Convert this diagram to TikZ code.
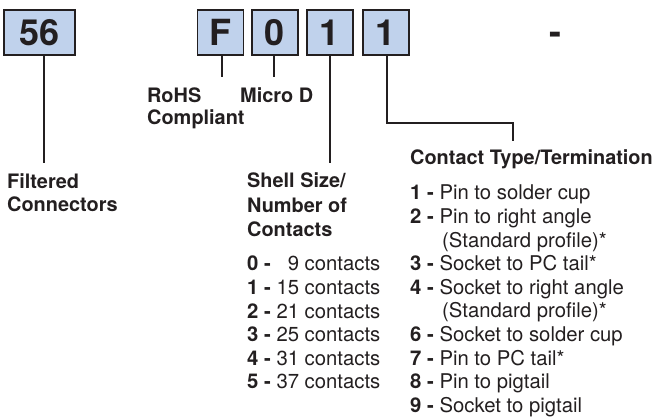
\documentclass[tikz,border=0pt]{standalone}
\usepackage{fontspec}
\setmainfont{TeX Gyre Heros}
\definecolor{ink}{RGB}{35,31,32}
\definecolor{boxblue}{RGB}{192,210,236}

\begin{document}
\begin{tikzpicture}[x=1pt,y=-1pt,line join=miter,
  every node/.style={inner sep=0pt,text=ink},
  digit/.style={draw=ink,line width=1.8pt,fill=boxblue,minimum width=46pt,minimum height=45pt,
    font=\fontsize{36}{36}\selectfont\bfseries},
  lbl/.style={anchor=base west,align=left,font=\fontsize{19.9}{23.6}\selectfont\bfseries},
  item/.style={anchor=base west,font=\fontsize{20.3}{23.6}\selectfont},
  lead/.style={draw=ink,line width=1.8pt}]
  \def\dy{23.6}
  \useasboundingbox (0,0) rectangle (657,419);
  % part number boxes
  \node[digit,minimum width=71pt] (b56) at (39.5,32.5) {56};
  \node[digit] (bF) at (220.5,32.5) {F};
  \node[digit] (b0) at (275,32.5) {0};
  \node[digit] (b1) at (330,32.5) {1};
  \node[digit] (b4) at (386,32.5) {1};
  \node[anchor=base,font=\fontsize{36}{36}\selectfont\bfseries] (dash) at (555,45) {-};
  % labels (base = last line)
  \node[lbl] (lfilt) at (7,212) {Filtered\\Connectors};
  \node[lbl,font=\fontsize{19.9}{22}\selectfont\bfseries] (lrohs) at (147,125) {RoHS\\Compliant};
  \node[lbl] (lmicro) at (240,103) {Micro D};
  \node[lbl,font=\fontsize{19.9}{24.5}\selectfont\bfseries] (lshell) at (247,237) {Shell Size/\\Number of\\Contacts};
  \node[lbl] (lterm) at (410,165) {Contact Type/Termination};
  % leads
  \coordinate (e56) at (44,163);
  \coordinate (eF) at (222,77);
  \coordinate (e0) at (274,77);
  \coordinate (e1) at (330,163);
  \coordinate (t4) at (387,123);
  \coordinate (eT) at (513,141);
  \draw[lead] (b56.south -| e56) -- (e56);
  \draw[lead] (bF.south -| eF) -- (eF);
  \draw[lead] (b0.south -| e0) -- (e0);
  \draw[lead] (b1.south -| e1) -- (e1);
  \draw[lead] (b4.south -| t4) -- (t4) -| (eT);
  % shell sizes
  \foreach \n/\c [count=\i from 0] in {0/\phantom{1}9,1/15,2/21,3/25,4/31,5/37}
    \node[item] (sz\n) at (247,{271+\dy*\i}) {\textbf{\n\ -} \c\ contacts};
  % contact types
  \foreach \r/\n/\t in {0/1/Pin to solder cup,1/2/Pin to right angle,3/3/Socket to PC tail*,
      4/4/Socket to right angle,6/6/Socket to solder cup,7/7/Pin to PC tail*,
      8/8/Pin to pigtail,9/9/Socket to pigtail}
    \node[item] (ct\n) at (410,{200+\dy*\r}) {\textbf{\n\ -} \t};
  \foreach \r in {2,5}
    \node[item] (cs\r) at (442,{200+\dy*\r}) {(Standard profile)*};
\end{tikzpicture}
\end{document}
